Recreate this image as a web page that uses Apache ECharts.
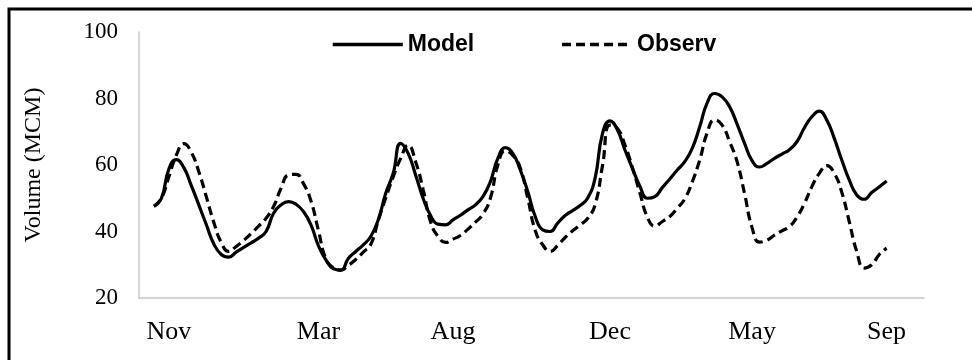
<!DOCTYPE html>
<html>
<head>
<meta charset="utf-8">
<script src="https://cdn.jsdelivr.net/npm/echarts@6/dist/echarts.min.js"></script>
<style>
  html, body { margin: 0; padding: 0; background: #ffffff; }
  #chart { width: 972px; height: 360px; }
</style>
</head>
<body>
<div id="chart"></div>
<script>
// Series names
const seriesNames = ['Model', 'Observ'];

// Month tick labels and the step (category index) each one sits on
const tickLabels = ['Nov', 'Mar', 'Aug', 'Dec', 'May', 'Sep'];
const tickSteps = [4, 24, 42, 63, 82, 100];

// Reservoir volume (MCM), one value per time step, starting at step 2
const firstStep = 2;
const totalSteps = 106;

const modelVolume = [
  47.6, 50, 58.8, 61.6, 59.2, 53.8, 48, 42.1, 36.3,
  33.1, 32.3, 33.8, 35.2, 36.6, 38, 40, 45.5, 48, 49,
  48.2, 46, 42, 35.7, 31.5, 28.8, 28.4, 31.9, 34, 36,
  38.5, 43.5, 51.5, 57.5, 66.5, 63.5, 57, 50, 44.8, 42.2,
  42, 43.5, 44.9, 46.5, 48, 50.5, 55, 62, 65.2, 63.5,
  58.5, 52, 44.5, 40.5, 40, 42.5, 44.8, 46.3, 47.8, 50,
  56, 69.5, 73.3, 70.5, 64.5, 59, 53.6, 50, 50.5, 53.2,
  55.8, 58.5, 61, 65, 71.5, 78.7, 81.5, 80.5, 77.5, 72.3,
  66.5, 61.3, 59.4, 60.5, 62, 63.3, 64.6, 67, 71.2, 74.5,
  76.2, 73.5, 68, 61.5, 55.5, 51, 49.7, 51.7, 53.4, 55.2
];

const observedVolume = [
  47.6, 50, 56.5, 63, 66.4, 63.8, 58, 50.5, 42.8,
  36.7, 34, 35.5, 37.3, 39.4, 41.6, 44, 47.5, 53, 57,
  57.2, 54.4, 49.2, 40.3, 31.7, 29.1, 28.4, 29.8, 31.6, 33.8,
  36.1, 43.3, 50.1, 56.4, 62, 66, 61, 52.7, 42.9, 38.5,
  36.7, 37.7, 38.8, 40.7, 42.8, 45.2, 50, 60, 64.3, 62.9,
  59.1, 50, 40.3, 36, 34, 35.8, 38.2, 40.2, 42, 43.9,
  48, 59.8, 72, 71, 66, 59.2, 51.6, 44.3, 41.6, 43,
  44.5, 47, 49.8, 54.9, 61.5, 69.7, 73.6, 72, 67, 61,
  51.4, 41.2, 36.8, 37.4, 38.9, 40.2, 41.5, 44.3, 48.4, 53.5,
  57.5, 59.8, 57.5, 51.8, 43, 34, 29, 30, 33, 35
];

// Y axis range
const yMin = 20, yMax = 100, yStep = 20;

// Full category list; steps without a month name carry no label
const categories = Array.from({ length: totalSteps }, (_, i) => {
  const k = tickSteps.indexOf(i);
  return k >= 0 ? tickLabels[k] : '';
});

// Place a series on the full step range (blank before and after the record)
function onSteps(values) {
  const out = new Array(totalSteps).fill(null);
  values.forEach((v, j) => { out[firstStep + j] = v; });
  return out;
}

const serif = '"Liberation Serif", "Times New Roman", serif';
const sans = '"Liberation Sans", Arial, sans-serif';

const chart = echarts.init(document.getElementById('chart'), null, { renderer: 'canvas' });

chart.setOption({
  animation: false,
  backgroundColor: '#ffffff',
  graphic: [{
    type: 'rect',
    z: -1,
    silent: true,
    shape: { x: 9, y: 9, width: 1200, height: 600 },
    style: { fill: 'none', stroke: '#000000', lineWidth: 3 }
  }],
  legend: {
    data: seriesNames,
    left: 331,
    top: 33,
    padding: 0,
    itemWidth: 70,
    itemHeight: 20,
    itemGap: 86,
    itemStyle: { opacity: 0 },
    lineStyle: { width: 3.6 },
    textStyle: { fontFamily: sans, fontSize: 23, fontWeight: 'bold', color: '#000000' }
  },
  grid: { left: 139, right: 48, top: 32, bottom: 62, containLabel: false },
  xAxis: {
    type: 'category',
    data: categories,
    boundaryGap: false,
    axisLine: { show: true, lineStyle: { color: '#c8c8c8', width: 1.5 } },
    axisTick: { show: false },
    splitLine: { show: false },
    axisLabel: {
      interval: (i) => tickSteps.indexOf(i) >= 0,
      fontFamily: serif,
      fontSize: 26,
      color: '#000000',
      margin: 21
    }
  },
  yAxis: {
    type: 'value',
    min: yMin,
    max: yMax,
    interval: yStep,
    name: 'Volume (MCM)',
    nameLocation: 'middle',
    nameGap: 93,
    nameTextStyle: { fontFamily: serif, fontSize: 24, color: '#000000' },
    axisLine: { show: true, lineStyle: { color: '#c8c8c8', width: 1.5 } },
    axisTick: { show: false },
    splitLine: { show: false },
    axisLabel: { fontFamily: serif, fontSize: 23, color: '#000000', margin: 21 }
  },
  series: [
    {
      name: seriesNames[0],
      type: 'line',
      data: onSteps(modelVolume),
      smooth: true,
      symbol: 'none',
      connectNulls: false,
      lineStyle: { color: '#000000', width: 3.2, type: 'solid' },
      itemStyle: { color: '#000000' }
    },
    {
      name: seriesNames[1],
      type: 'line',
      data: onSteps(observedVolume),
      smooth: true,
      symbol: 'none',
      connectNulls: false,
      lineStyle: { color: '#000000', width: 3.2, type: [9, 5] },
      itemStyle: { color: '#000000' }
    }
  ]
});
</script>
</body>
</html>
